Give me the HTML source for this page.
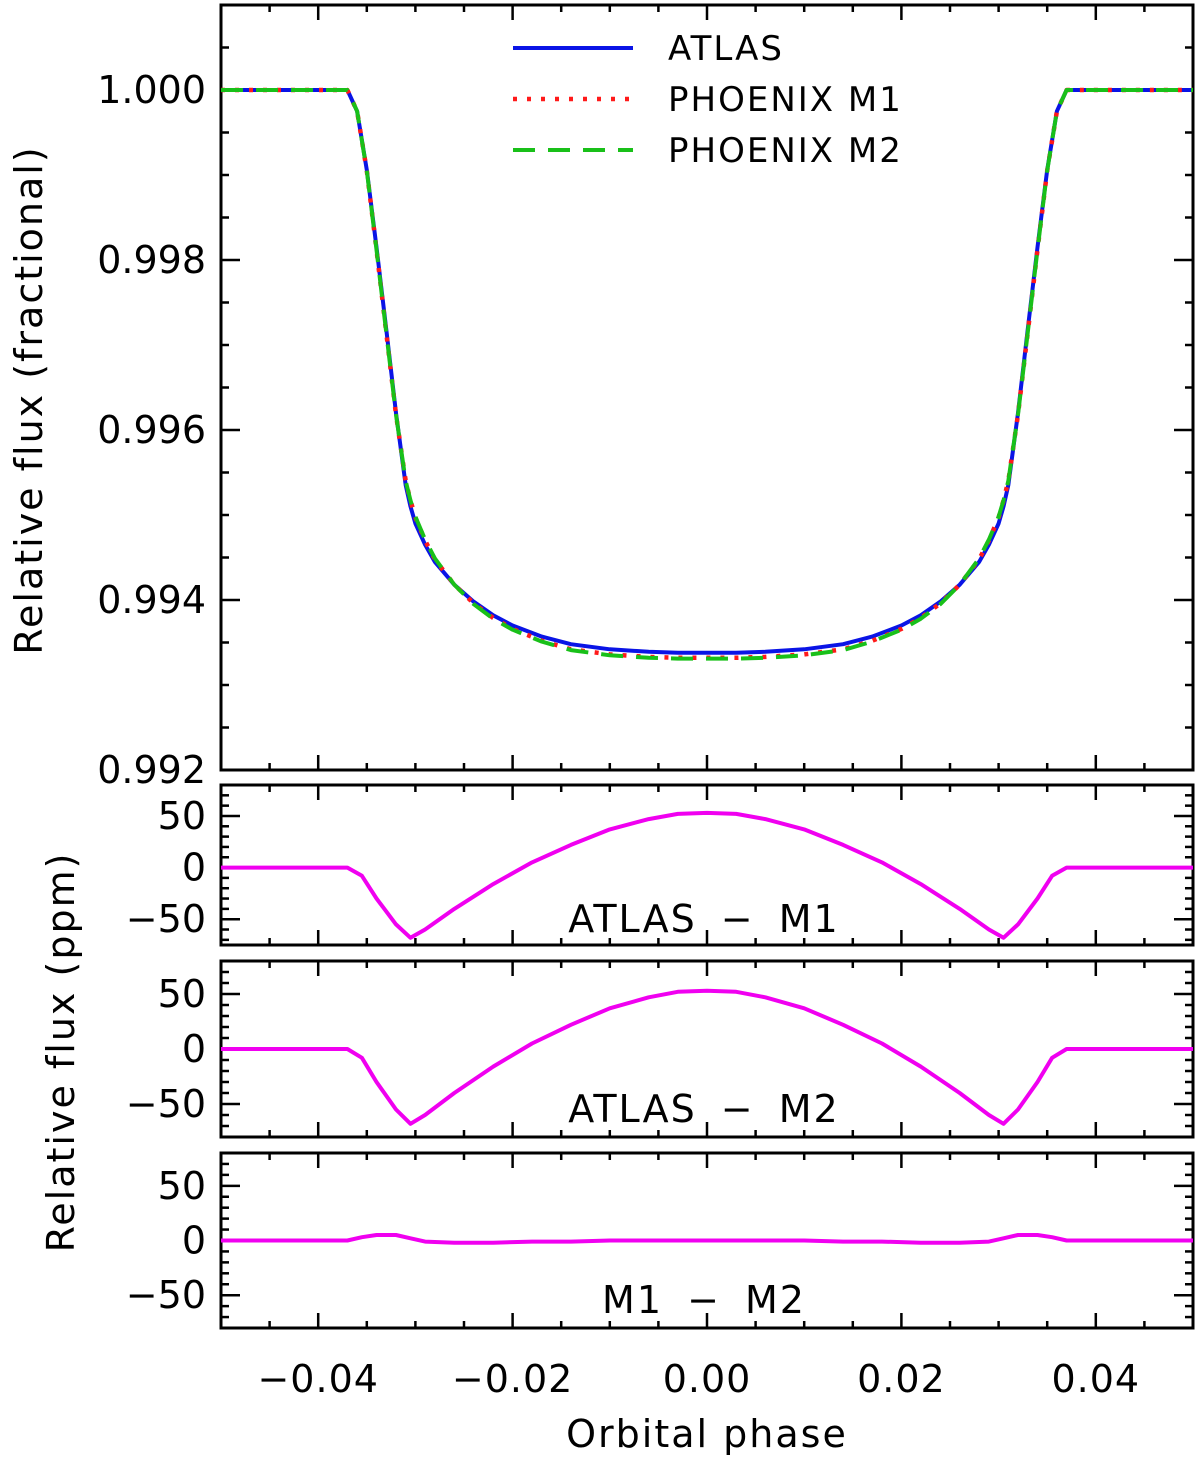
<!DOCTYPE html>
<html><head><meta charset="utf-8"><style>
html,body{margin:0;padding:0;background:#fff;}
svg{display:block;font-family:"DejaVu Sans","Liberation Sans",sans-serif;}
</style></head><body>
<svg id="chart" width="1200" height="1463" viewBox="0 0 1200 1463" xmlns="http://www.w3.org/2000/svg"></svg>
<script>
// ---- data ----
const phase = [-0.05,-0.037,-0.036,-0.035,-0.034,-0.033,-0.032,-0.031,-0.0305,-0.030,-0.029,-0.028,-0.026,-0.024,-0.022,-0.020,-0.017,-0.014,-0.010,-0.006,-0.003,0,0.003,0.006,0.010,0.014,0.017,0.020,0.022,0.024,0.026,0.028,0.029,0.030,0.0305,0.031,0.032,0.033,0.034,0.035,0.036,0.037,0.05];
const fluxAtlas = [1.0,1.0,0.99975,0.99906,0.99815,0.99719,0.99620,0.99535,0.99510,0.99490,0.99465,0.99445,0.99418,0.99398,0.99382,0.99370,0.99357,0.99348,0.99342,0.99339,0.99338,0.99338,0.99338,0.99339,0.99342,0.99348,0.99357,0.99370,0.99382,0.99398,0.99418,0.99445,0.99465,0.99490,0.99510,0.99535,0.99620,0.99719,0.99815,0.99906,0.99975,1.0,1.0];
const fluxM1 = [1.0,1.0,0.99975,0.99905,0.99812,0.99715,0.99618,0.99540,0.99517,0.99497,0.99470,0.99448,0.99418,0.99396,0.99379,0.99366,0.99352,0.99342,0.99336,0.99333,0.99332,0.99332,0.99332,0.99333,0.99336,0.99342,0.99352,0.99366,0.99379,0.99396,0.99418,0.99448,0.99470,0.99497,0.99517,0.99540,0.99618,0.99715,0.99812,0.99905,0.99975,1.0,1.0];
const fluxM2 = [1.0,1.0,0.99975,0.99905,0.99812,0.99715,0.99618,0.99540,0.99517,0.99498,0.99471,0.99449,0.99418,0.99395,0.99378,0.99365,0.99351,0.99341,0.99335,0.99332,0.99331,0.99331,0.99331,0.99332,0.99335,0.99341,0.99351,0.99365,0.99378,0.99395,0.99418,0.99449,0.99471,0.99498,0.99517,0.99540,0.99618,0.99715,0.99812,0.99905,0.99975,1.0,1.0];
const resPhase = [-0.05,-0.037,-0.0355,-0.034,-0.032,-0.0305,-0.029,-0.026,-0.022,-0.018,-0.014,-0.010,-0.006,-0.003,0,0.003,0.006,0.010,0.014,0.018,0.022,0.026,0.029,0.0305,0.032,0.034,0.0355,0.037,0.05];
const resAtlasM1 = [0,0,-8,-30,-55,-68,-60,-40,-16,5,22,37,47,52,53,52,47,37,22,5,-16,-40,-60,-68,-55,-30,-8,0,0];
const resAtlasM2 = [0,0,-8,-30,-55,-68,-60,-40,-16,5,22,37,47,52,53,52,47,37,22,5,-16,-40,-60,-68,-55,-30,-8,0,0];
const resM1M2 = [0,0,3,5,5,2,-1,-2,-2,-1,-1,0,0,0,0,0,0,0,-1,-1,-2,-2,-1,2,5,5,3,0,0];
const xTicks = [-0.04,-0.02,0.00,0.02,0.04];
const xTickLabels = ["\u22120.04","\u22120.02","0.00","0.02","0.04"];
const yTopTicks = [0.992,0.994,0.996,0.998,1.000];
const yTopLabels = ["0.992","0.994","0.996","0.998","1.000"];
const yResTicks = [-50,0,50];
const yResLabels = ["\u221250","0","50"];
</script>
<script>
const svg=document.getElementById('chart');
const NS='http://www.w3.org/2000/svg';
function mk(tag,attrs,parent){const e=document.createElementNS(NS,tag);for(const k in attrs)e.setAttribute(k,attrs[k]);(parent||svg).appendChild(e);return e;}
const X0=221,X1=1193;
const xs=v=>X0+(v+0.05)/0.1*(X1-X0);

function panel(name,top,bot,ymin,ymax,majorY,minorY,labelsV,labelsT){
  const g=mk('g',{});
  
  
  const ys=v=>bot-(v-ymin)/(ymax-ymin)*(bot-top);
  for(let v=-0.05;v<=0.0501;v+=0.005){
    const vv=Math.round(v*1000)/1000;const maj=Math.abs(Math.round(vv*1000)%20)===0;
    const L=maj?15:7;const x=xs(vv);
    mk('line',{x1:x,x2:x,y1:bot,y2:bot-L,stroke:'#000','stroke-width':2.5},g);
    mk('line',{x1:x,x2:x,y1:top,y2:top+L,stroke:'#000','stroke-width':2.5},g);
  }
  const start=Math.ceil(ymin/minorY-1e-6);
  for(let i=start;i*minorY<=ymax+1e-9;i++){
    const v=i*minorY;const r=v/majorY;const maj=Math.abs(r-Math.round(r))<1e-6;
    const L=maj?19:8;const y=ys(v);
    mk('line',{x1:X0,x2:X0+L,y1:y,y2:y,stroke:'#000','stroke-width':2.5},g);
    mk('line',{x1:X1,x2:X1-L,y1:y,y2:y,stroke:'#000','stroke-width':2.5},g);
  }
  labelsV.forEach((v,i)=>{const t=mk('text',{x:206,y:ys(v)+13,'text-anchor':'end','font-size':38},g);t.textContent=labelsT[i];
    
    });
  mk('rect',{x:X0,y:top,width:X1-X0,height:bot-top,fill:'none',stroke:'#000','stroke-width':3},g);
  return {g,ys};
}
function line(p,xArr,yArr,attrs,name){
  const d=xArr.map((x,i)=>(i?'L':'M')+xs(x).toFixed(1)+','+p.ys(yArr[i]).toFixed(1)).join(' ');
  const e=mk('path',Object.assign({d,fill:'none','stroke-linejoin':'round'},attrs),p.g);
  
  
}
const p1=panel('flux-panel',5,770,0.992,1.001,0.002,0.0005,yTopTicks,yTopLabels);
line(p1,phase,fluxAtlas,{stroke:'#0a14e6','stroke-width':4},'atlas-line');
line(p1,phase,fluxM1,{stroke:'#ff1a1a','stroke-width':4.5,'stroke-dasharray':'4 10'},'phoenix-m1-line');
line(p1,phase,fluxM2,{stroke:'#19c019','stroke-width':4,'stroke-dasharray':'22 13'},'phoenix-m2-line');
const leg=[['ATLAS',{stroke:'#0a14e6'}],['PHOENIX M1',{stroke:'#ff1a1a','stroke-dasharray':'4 10','stroke-width':4.5}],['PHOENIX M2',{stroke:'#19c019','stroke-dasharray':'22 13'}]];
leg.forEach((l,i)=>{const y=48+i*51;
  const ln=mk('line',Object.assign({x1:513,x2:633,y1:y,y2:y,'stroke-width':4},l[1]));
  
  
  const t=mk('text',{x:668,y:y+12,'font-size':34,'letter-spacing':2});t.textContent=l[0];
  
  });
const panels=[['atlas-m1-panel',785,945,-75,80,resAtlasM1,'ATLAS \u2212 M1',932],['atlas-m2-panel',961,1137,-80,80,resAtlasM2,'ATLAS \u2212 M2',1122],['m1-m2-panel',1153,1328,-80,80,resM1M2,'M1 \u2212 M2',1313]];
panels.forEach(pp=>{const p=panel(pp[0],pp[1],pp[2],pp[3],pp[4],50,10,yResTicks,yResLabels);
  line(p,resPhase,pp[5],{stroke:'#f000f0','stroke-width':4},'residual-line');
  const t=mk('text',{x:704,y:pp[7],'text-anchor':'middle','font-size':38,'letter-spacing':2,'word-spacing':10},p.g);t.textContent=pp[6];
  
  });
xTicks.forEach((v,i)=>{const t=mk('text',{x:xs(v),y:1392,'text-anchor':'middle','font-size':38,'letter-spacing':1});t.textContent=xTickLabels[i];
  
  });
let t=mk('text',{x:707,y:1447,'text-anchor':'middle','font-size':38,'letter-spacing':2});t.textContent='Orbital phase';


t=mk('text',{x:0,y:0,'text-anchor':'middle','font-size':38,'letter-spacing':2,transform:'translate(42,400) rotate(-90)'});t.textContent='Relative flux (fractional)';


t=mk('text',{x:0,y:0,'text-anchor':'middle','font-size':38,'letter-spacing':2,transform:'translate(74,1052) rotate(-90)'});t.textContent='Relative flux (ppm)';


</script>
</body></html>
